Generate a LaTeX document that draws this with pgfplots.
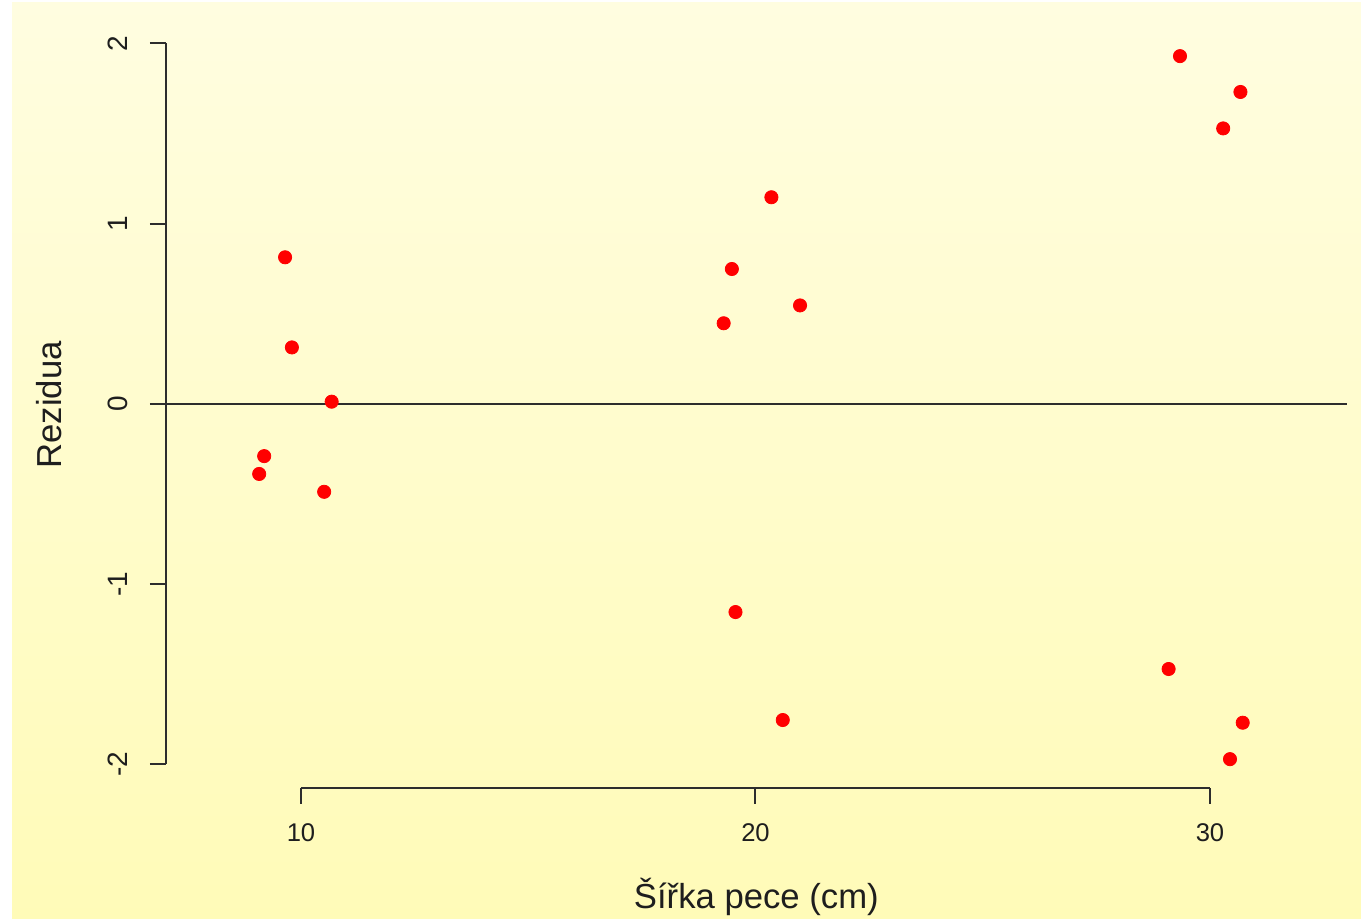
\documentclass[border=0pt]{standalone}
\usepackage{pgfplots}
\pgfplotsset{compat=1.18}
\usepackage{fontspec}
\setmainfont{Liberation Sans}
\definecolor{bgtop}{RGB}{255,253,224}
\definecolor{bgbot}{RGB}{255,251,184}
\definecolor{axcol}{RGB}{45,45,45}
\definecolor{txtcol}{RGB}{30,30,30}
\begin{document}
\begin{tikzpicture}[x=0.5pt,y=0.5pt]
\fill[white] (0,0) rectangle (1361,919);
\shade[top color=bgtop,bottom color=bgbot] (12,0) rectangle (1361,916);
\begin{axis}[
  at={(83pt,65.5pt)}, anchor=south west,
  scale only axis, width=590.35pt, height=380pt,
  xmin=7.03, xmax=33.008, ymin=-2.131, ymax=2.085,
  axis x line*=bottom, axis y line*=left,
  axis line style={draw=none},
  clip=false,
  xtick={10,20,30}, ytick={-2,-1,0,1,2},
  tick align=outside, major tick length=8pt,
  tick style={axcol, line width=1pt},
  /pgf/number format/assume math mode=true,
  ticklabel style={text=txtcol, inner sep=0pt},
  xticklabel style={anchor=north, font=\fontsize{12.8}{14}\selectfont},
  yticklabel style={rotate=90, anchor=south, font=\fontsize{14}{16}\selectfont},
  xticklabel shift=9.6pt,
  yticklabel shift=11pt,
  xlabel={Šířka pece (cm)},
  xlabel style={at={(axis description cs:0.5,-0.158)}, anchor=base, font=\fontsize{17.35}{20}\selectfont, text=txtcol},
  ylabel={Rezidua},
  ylabel style={at={(axis description cs:-0.099,0.504)}, anchor=center, font=\fontsize{17.35}{20}\selectfont, text=txtcol},
]
\draw[axcol, line width=1pt] (axis cs:7.03,-2) -- (axis cs:7.03,2);
\draw[axcol, line width=1pt] (axis cs:10,-2.131) -- (axis cs:30,-2.131);
\addplot[axcol, line width=1pt] coordinates {(7.03,0) (33.008,0)};
\addplot[only marks, mark=*, mark size=3.3pt, color=red, mark options={fill=red, draw=red}] coordinates {
(9.65,0.813) (9.80,0.313) (10.675,0.012) (9.19,-0.290) (9.08,-0.389) (10.51,-0.488)
(20.35,1.146) (19.48,0.748) (20.98,0.546) (19.30,0.447) (19.56,-1.155) (20.60,-1.754)
(29.09,-1.471) (30.72,-1.769) (30.44,-1.971) (29.34,1.929) (30.67,1.730) (30.29,1.528)
};
\end{axis}
\pgfresetboundingbox
\useasboundingbox (0,0) rectangle (1361,919);
\end{tikzpicture}
\end{document}
